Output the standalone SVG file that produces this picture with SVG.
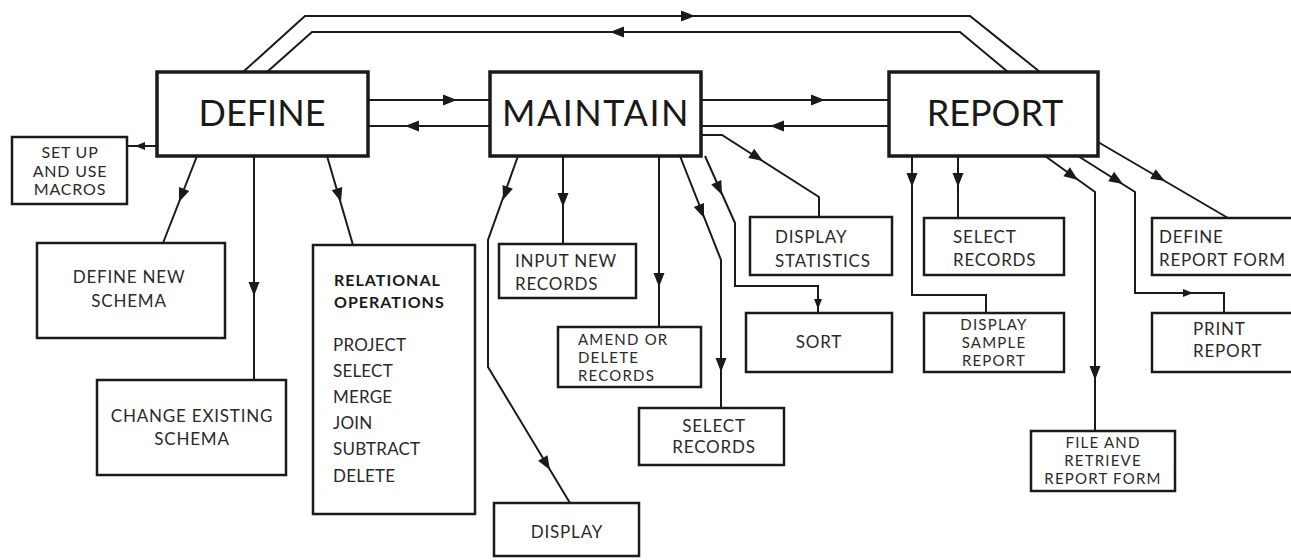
<svg xmlns="http://www.w3.org/2000/svg" xmlns:xlink="http://www.w3.org/1999/xlink" width="1291" height="560" viewBox="0 0 1291 560">
<style>
.bg{fill:#ffffff}
.main rect{fill:#fff;stroke:#1a1a1a;stroke-width:3.5}
.box rect{fill:#fff;stroke:#1a1a1a;stroke-width:2.5}
.main text{font-family:Lato,"Open Sans",sans-serif;font-size:36px;fill:#1a1a1a}
.box text{font-family:Lato,"Open Sans",sans-serif;font-size:17px;letter-spacing:0.8px;fill:#2a2a2a}
.box text.b{font-weight:bold;font-size:16px;letter-spacing:1px;fill:#1a1a1a}
.box text.op{font-size:17px;letter-spacing:0.2px}
.box text.sm{font-size:16px;letter-spacing:0.8px}
.box text.t{font-size:15px;letter-spacing:1.2px}
.c{fill:none;stroke:#1a1a1a;stroke-width:2}
.ah{fill:#1a1a1a}
</style>
<defs>
<path id="ah" d="M0,0 L-14,-5.5 L-14,5.5 Z"/>
<path id="ahs" d="M0,0 L-10,-4 L-10,4 Z"/>
</defs>
<rect class="bg" width="1291" height="560"/>
<g id="connectors">
<path class="c" d="M243,72 L305,16 L970,16 L1040,72"/>
<path class="c" d="M267,72 L312,32 L960,32 L1008,72"/>
<path class="c" d="M368,100 L490,100"/>
<path class="c" d="M368,126 L490,126"/>
<path class="c" d="M701,100 L889,100"/>
<path class="c" d="M701,126 L889,126"/>
<path class="c" d="M157,146 L127,146"/>
<path class="c" d="M197,156 L163,243"/>
<path class="c" d="M254,156 L254,380"/>
<path class="c" d="M327,156 L353,245"/>
<path class="c" d="M518,156 L488,240 L488,367 L570,503"/>
<path class="c" d="M563,156 L563,244"/>
<path class="c" d="M659,156 L659,327"/>
<path class="c" d="M680,156 L721,260 L721,408"/>
<path class="c" d="M705,156 L735,223 L735,286 L818,286 L818,313"/>
<path class="c" d="M701,135 L722,135 L819,197 L819,217"/>
<path class="c" d="M912,156 L912,295 L986,295 L986,313"/>
<path class="c" d="M958,156 L958,218"/>
<path class="c" d="M1045,156 L1095,192 L1095,431"/>
<path class="c" d="M1078,156 L1135,192 L1135,293 L1224,293 L1224,313"/>
<path class="c" d="M1098,142 L1228,218"/>
<g class="ah">
<use xlink:href="#ah" transform="translate(695,16)"/>
<use xlink:href="#ah" transform="translate(610,32) rotate(180)"/>
<use xlink:href="#ah" transform="translate(457,100)"/>
<use xlink:href="#ah" transform="translate(405,126) rotate(180)"/>
<use xlink:href="#ah" transform="translate(825,100)"/>
<use xlink:href="#ah" transform="translate(770,126) rotate(180)"/>
<use xlink:href="#ahs" transform="translate(135,146) rotate(180)"/>
<use xlink:href="#ah" transform="translate(179,202) rotate(111.3)"/>
<use xlink:href="#ah" transform="translate(254,296) rotate(90)"/>
<use xlink:href="#ah" transform="translate(341,202) rotate(73.4)"/>
<use xlink:href="#ah" transform="translate(503,200) rotate(109.7)"/>
<use xlink:href="#ah" transform="translate(550,470) rotate(58.9)"/>
<use xlink:href="#ah" transform="translate(563,207) rotate(90)"/>
<use xlink:href="#ah" transform="translate(659,287) rotate(90)"/>
<use xlink:href="#ah" transform="translate(704,218) rotate(68.5)"/>
<use xlink:href="#ah" transform="translate(721,372) rotate(90)"/>
<use xlink:href="#ah" transform="translate(722,195) rotate(65.9)"/>
<use xlink:href="#ahs" transform="translate(818,309) rotate(90)"/>
<use xlink:href="#ah" transform="translate(763,161) rotate(32.6)"/>
<use xlink:href="#ah" transform="translate(912,187) rotate(90)"/>
<use xlink:href="#ah" transform="translate(958,187) rotate(90)"/>
<use xlink:href="#ah" transform="translate(1078,180) rotate(35.8)"/>
<use xlink:href="#ah" transform="translate(1095,380) rotate(90)"/>
<use xlink:href="#ah" transform="translate(1123,184) rotate(32.3)"/>
<use xlink:href="#ahs" transform="translate(1193,293)"/>
<use xlink:href="#ah" transform="translate(1165,181) rotate(30.3)"/>
</g>
</g>
<g id="define" class="main"><rect x="157" y="72" width="211" height="84"/><text x="262" y="126" text-anchor="middle">DEFINE</text></g>
<g id="maintain" class="main"><rect x="490" y="72" width="211" height="84"/><text x="596" y="126" text-anchor="middle" style="letter-spacing:1.5px">MAINTAIN</text></g>
<g id="report" class="main"><rect x="889" y="72" width="209" height="84"/><text x="995" y="126" text-anchor="middle">REPORT</text></g>
<g id="macros" class="box"><rect x="12" y="137" width="115" height="67"/>
<text class="sm" x="70" y="158" text-anchor="middle">SET UP</text>
<text class="sm" x="70" y="177" text-anchor="middle">AND USE</text>
<text class="sm" x="70" y="195" text-anchor="middle">MACROS</text></g>
<g id="definenew" class="box"><rect x="37" y="243" width="188" height="95"/>
<text x="129" y="283" text-anchor="middle">DEFINE NEW</text>
<text x="129" y="307" text-anchor="middle">SCHEMA</text></g>
<g id="changeexisting" class="box"><rect x="97" y="380" width="189" height="95"/>
<text x="192" y="422" text-anchor="middle">CHANGE EXISTING</text>
<text x="192" y="445" text-anchor="middle">SCHEMA</text></g>
<g id="relational" class="box"><rect x="313" y="245" width="162" height="269"/>
<text class="b" x="334" y="286">RELATIONAL</text>
<text class="b" x="334" y="308">OPERATIONS</text>
<text class="op" x="333" y="351">PROJECT</text>
<text class="op" x="333" y="377">SELECT</text>
<text class="op" x="333" y="403">MERGE</text>
<text class="op" x="333" y="429">JOIN</text>
<text class="op" x="333" y="455">SUBTRACT</text>
<text class="op" x="333" y="482">DELETE</text></g>
<g id="inputnew" class="box"><rect x="499" y="244" width="137" height="54"/>
<text x="515" y="267">INPUT NEW</text>
<text x="515" y="290">RECORDS</text></g>
<g id="amend" class="box"><rect x="558" y="327" width="143" height="60"/>
<text class="t" x="578" y="345">AMEND OR</text>
<text class="t" x="578" y="363">DELETE</text>
<text class="t" x="578" y="381">RECORDS</text></g>
<g id="selectm" class="box"><rect x="639" y="408" width="145" height="57"/>
<text x="714" y="432" text-anchor="middle">SELECT</text>
<text x="714" y="453" text-anchor="middle">RECORDS</text></g>
<g id="display" class="box"><rect x="494" y="503" width="145" height="53"/>
<text x="567" y="538" text-anchor="middle">DISPLAY</text></g>
<g id="statistics" class="box"><rect x="750" y="217" width="142" height="58"/>
<text x="775" y="243">DISPLAY</text>
<text x="775" y="267">STATISTICS</text></g>
<g id="sort" class="box"><rect x="746" y="313" width="146" height="59"/>
<text x="819" y="348" text-anchor="middle">SORT</text></g>
<g id="selectr" class="box"><rect x="924" y="218" width="140" height="57"/>
<text x="953" y="243">SELECT</text>
<text x="953" y="266">RECORDS</text></g>
<g id="sample" class="box"><rect x="924" y="313" width="140" height="59"/>
<text class="t" x="994" y="330" text-anchor="middle">DISPLAY</text>
<text class="t" x="994" y="348" text-anchor="middle">SAMPLE</text>
<text class="t" x="994" y="366" text-anchor="middle">REPORT</text></g>
<g id="fileretrieve" class="box"><rect x="1031" y="431" width="144" height="60"/>
<text class="t" x="1103" y="448" text-anchor="middle">FILE AND</text>
<text class="t" x="1103" y="466" text-anchor="middle">RETRIEVE</text>
<text class="t" x="1103" y="484" text-anchor="middle">REPORT FORM</text></g>
<g id="defineform" class="box"><rect x="1152" y="218" width="150" height="57"/>
<text x="1159" y="243">DEFINE</text>
<text x="1159" y="266">REPORT FORM</text></g>
<g id="print" class="box"><rect x="1152" y="313" width="150" height="59"/>
<text x="1193" y="335">PRINT</text>
<text x="1193" y="357">REPORT</text></g>
</svg>
